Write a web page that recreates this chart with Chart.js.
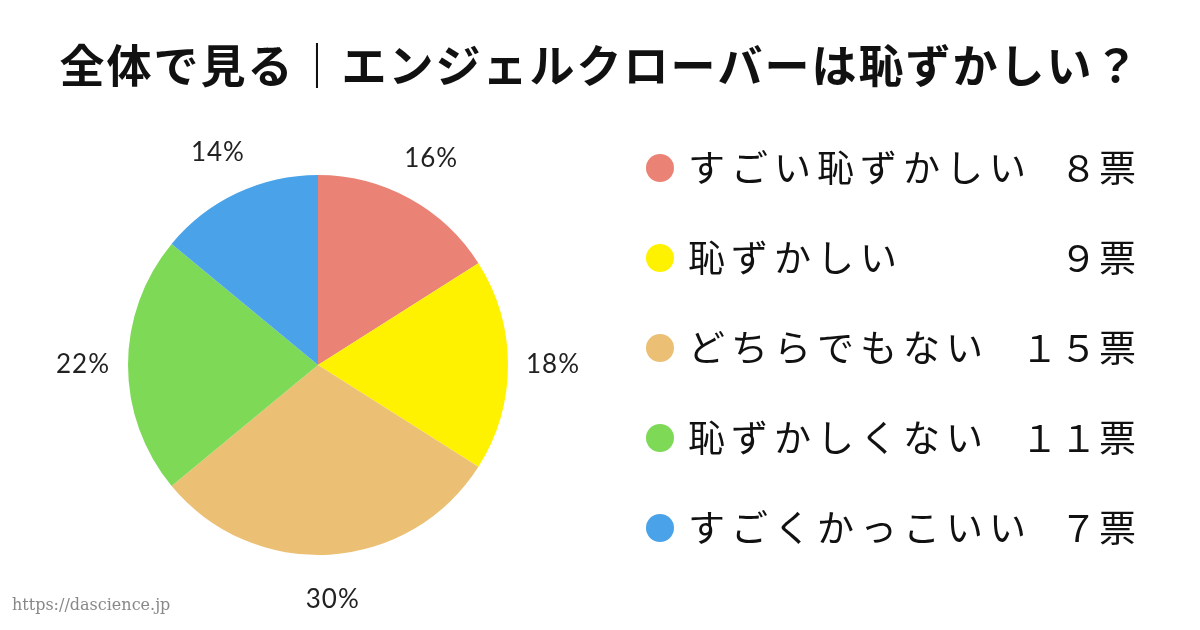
<!DOCTYPE html>
<html><head><meta charset="utf-8">
<script src="https://cdn.jsdelivr.net/npm/chart.js@4"></script>
<style>html,body{margin:0;background:#fff}canvas{display:block}</style>
</head><body>
<div style="width:1200px;height:630px"><canvas id="c"></canvas></div>
<script>
var title = '全体で見る｜エンジェルクローバーは恥ずかしい？';
var labels = ['すごい恥ずかしい', '恥ずかしい', 'どちらでもない', '恥ずかしくない', 'すごくかっこいい'];
var votes = [8, 9, 15, 11, 7];
var colors = ['#EA8375', '#FFF200', '#EBC074', '#7ED957', '#4AA3E8'];
var font = '"Noto Sans CJK JP", "Noto Sans", sans-serif';

function wide(n) {
  return String(n).replace(/[0-9]/g, function(d) { return String.fromCharCode(d.charCodeAt(0) + 0xFEE0); });
}

var extras = {
  id: 'extras',
  afterDraw: function(chart) {
    var ctx = chart.ctx;
    var total = votes.reduce(function(a, b) { return a + b; }, 0);
    ctx.save();
    // title
    ctx.fillStyle = '#111';
    ctx.font = 'bold 45px ' + font;
    ctx.letterSpacing = '2px';
    ctx.textAlign = 'center';
    ctx.textBaseline = 'middle';
    ctx.fillText(title, 600, 66);
    // percent labels
    ctx.letterSpacing = '1px';
    ctx.font = '26px Lato, "Noto Sans", sans-serif';
    ctx.fillStyle = '#222';
    chart.getDatasetMeta(0).data.forEach(function(arc, i) {
      var mid = (arc.startAngle + arc.endAngle) / 2;
      var r = arc.outerRadius + 45;
      ctx.fillText(Math.round(votes[i] / total * 100) + '%', arc.x + Math.cos(mid) * r, arc.y + Math.sin(mid) * r);
    });
    // legend
    for (var i = 0; i < labels.length; i++) {
      var y = 168 + i * 90;
      ctx.fillStyle = colors[i];
      ctx.beginPath();
      ctx.arc(660, y, 14, 0, Math.PI * 2);
      ctx.fill();
      ctx.fillStyle = '#111';
      ctx.font = '37px ' + font;
      ctx.textAlign = 'left';
      ctx.letterSpacing = '6px';
      ctx.fillText(labels[i], 688, y);
      ctx.textAlign = 'right';
      ctx.letterSpacing = '2px';
      ctx.fillText(wide(votes[i]) + '票', 1138, y);
    }
    ctx.letterSpacing = '0px';
    ctx.textAlign = 'left';
    ctx.fillStyle = '#888';
    ctx.font = '16px "DejaVu Serif", serif';
    ctx.fillText('https://dascience.jp', 12, 606);
    ctx.restore();
  }
};

new Chart(document.getElementById('c'), {
  type: 'pie',
  data: { labels: labels, datasets: [{ data: votes, backgroundColor: colors, borderWidth: 0 }] },
  options: {
    responsive: true, maintainAspectRatio: false, animation: false,
    layout: { padding: { left: 128, right: 692, top: 175, bottom: 75 } },
    plugins: { legend: { display: false }, tooltip: { enabled: false } }
  },
  plugins: [extras]
});
</script>
</body></html>
